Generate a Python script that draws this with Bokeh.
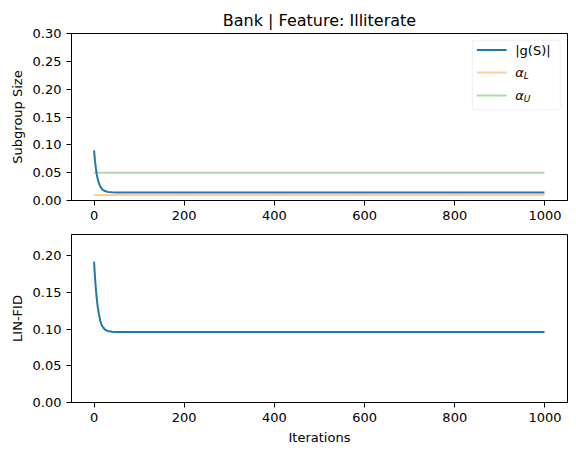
from bokeh.plotting import figure
from bokeh.layouts import column
from bokeh.models import Range1d, FixedTicker, NumeralTickFormatter, BoxAnnotation
from bokeh.core.properties import value
from bokeh.embed import file_html
from bokeh.resources import INLINE

# ---- data ----
iters = [0, 2, 4, 6, 8, 10, 14, 18, 24, 30, 40, 50, 60, 999]
subgroup_size = [0.090, 0.072, 0.058, 0.047, 0.039, 0.033, 0.025, 0.020, 0.017,
                 0.0155, 0.0147, 0.0144, 0.0143, 0.0143]
lin_fid = [0.192, 0.172, 0.155, 0.142, 0.131, 0.123, 0.111, 0.104, 0.0995,
           0.0975, 0.0965, 0.0962, 0.096, 0.096]
alpha_l = 0.01
alpha_u = 0.05
x_ticks = [0, 200, 400, 600, 800, 1000]
top_y_ticks = [0.0, 0.05, 0.10, 0.15, 0.20, 0.25, 0.30]
bottom_y_ticks = [0.0, 0.05, 0.10, 0.15, 0.20]

FONT = "DejaVu Sans"
BLUE = "#1f77b4"
ORANGE = "#ff7f0e"
GREEN = "#2ca02c"


def style(p):
    p.xgrid.visible = False
    p.ygrid.visible = False
    p.outline_line_color = "black"
    p.outline_line_width = 1
    p.outline_line_alpha = 1
    p.background_fill_color = "white"
    p.border_fill_color = "white"
    for ax in p.axis:
        ax.major_tick_out = 5
        ax.major_tick_in = 0
        ax.minor_tick_line_color = None
        ax.axis_line_color = "black"
        ax.major_tick_line_color = "black"
        ax.major_label_text_font = FONT
        ax.major_label_text_font_size = "13px"
        ax.major_label_text_color = "black"
        ax.axis_label_text_font = FONT
        ax.axis_label_text_font_size = "13px"
        ax.axis_label_text_font_style = "normal"
        ax.axis_label_text_color = "black"
    p.xaxis.ticker = FixedTicker(ticks=x_ticks)


# ---- top panel ----
p1 = figure(frame_width=496, frame_height=167, output_backend="svg", toolbar_location=None,
            x_range=Range1d(-50, 1050), y_range=Range1d(0, 0.3),
            min_border_left=71, min_border_right=9, min_border_top=33, min_border_bottom=26,
            title="Bank | Feature: Illiterate")
p1.title.align = "center"
p1.title.text_font = FONT
p1.title.text_font_size = "16px"
p1.title.text_font_style = "normal"
p1.title.text_color = "black"
p1.title.standoff = 8
style(p1)
p1.yaxis.ticker = FixedTicker(ticks=top_y_ticks)
p1.yaxis.formatter = NumeralTickFormatter(format="0.00")
p1.yaxis.axis_label = "Subgroup Size"

p1.line(iters, subgroup_size, line_color=BLUE, line_width=2)
p1.line([iters[0], iters[-1]], [alpha_l, alpha_l], line_color=ORANGE, line_alpha=0.4, line_width=2)
p1.line([iters[0], iters[-1]], [alpha_u, alpha_u], line_color=GREEN, line_alpha=0.4, line_width=2)

# manual legend (data coordinates of the top panel)
box = BoxAnnotation(left=839, right=1034, bottom=0.163, top=0.288,
                    fill_color="white", fill_alpha=0.8, line_color="#cccccc",
                    line_width=1, border_radius=3, level="underlay")
p1.add_layout(box)
rows_y = [0.2702, 0.2301, 0.1888]
x0, x1, xt = 849, 915, 934
p1.line([x0, x1], [rows_y[0]] * 2, line_color=BLUE, line_width=2)
p1.line([x0, x1], [rows_y[1]] * 2, line_color=ORANGE, line_alpha=0.4, line_width=2)
p1.line([x0, x1], [rows_y[2]] * 2, line_color=GREEN, line_alpha=0.4, line_width=2)
p1.text(x=[xt], y=[rows_y[0]], text=["|g(S)|"], text_baseline="middle",
        text_font=value(FONT), text_font_size="13px", text_color="black")
p1.text(x=[xt, xt], y=[rows_y[1], rows_y[2]], text=["α", "α"], text_baseline="middle",
        text_font=value(FONT), text_font_size="13px", text_font_style="italic", text_color="black")
p1.text(x=[xt + 19, xt + 19], y=[rows_y[1] - 0.0063, rows_y[2] - 0.0063], text=["L", "U"],
        text_baseline="middle", text_font=value(FONT), text_font_size="9px",
        text_font_style="italic", text_color="black")

# ---- bottom panel ----
p2 = figure(frame_width=496, frame_height=168, output_backend="svg", toolbar_location=None,
            x_range=Range1d(-50, 1050), y_range=Range1d(0, 0.229),
            min_border_left=71, min_border_right=9, min_border_top=8, min_border_bottom=45)
style(p2)
p2.yaxis.ticker = FixedTicker(ticks=bottom_y_ticks)
p2.yaxis.formatter = NumeralTickFormatter(format="0.00")
p2.yaxis.axis_label = "LIN-FID"
p2.xaxis.axis_label = "Iterations"
p2.line(iters, lin_fid, line_color=BLUE, line_width=2)

layout = column(p1, p2)
open("out.html", "w").write(file_html(layout, INLINE))
